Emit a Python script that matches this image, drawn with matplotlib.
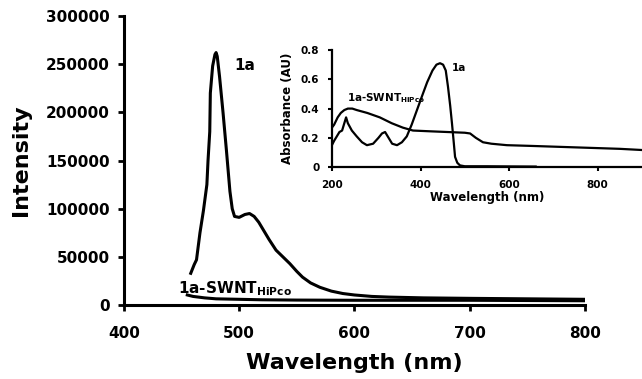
import matplotlib
matplotlib.use("Agg")
import matplotlib.pyplot as plt

# emission spectra (main panel)
em_1a_wl = [458, 461, 463, 466, 469, 472, 473, 474.5, 475, 477, 479, 480, 481, 483,
            486, 489, 492, 494, 496, 500, 505, 509, 513, 517, 521, 526, 532, 538,
            544, 550, 555, 562, 570, 580, 590, 600, 615, 630, 660, 700, 750, 800]
em_1a_int = [33000, 42000, 47000, 75000, 98000, 125000, 150000, 180000, 220000,
             248000, 260000, 262000, 258000, 237000, 200000, 160000, 118000, 100000,
             92000, 91000, 94000, 95000, 92000, 86000, 78000, 68000, 57000, 50000,
             43000, 35000, 29000, 23000, 18500, 14500, 12000, 10500, 9000, 8300,
             7500, 7000, 6500, 6000]
em_swnt_wl = [455, 460, 470, 480, 500, 520, 550, 600, 700, 800]
em_swnt_int = [10500, 9000, 7500, 6500, 6000, 5500, 5200, 5000, 5000, 4500]

# absorption spectra (inset)
abs_1a_wl = [200, 205, 211, 217, 223, 229, 232, 236, 245, 256, 268, 279, 293, 305,
             313, 320, 328, 336, 347, 358, 369, 380, 392, 404, 415, 427, 436, 444,
             451, 457, 462, 467, 471, 475, 478, 483, 489, 500, 550, 600, 660]
abs_1a = [0.15, 0.18, 0.21, 0.24, 0.25, 0.31, 0.34, 0.30, 0.25, 0.21, 0.17, 0.15,
          0.16, 0.20, 0.23, 0.24, 0.20, 0.16, 0.15, 0.17, 0.21, 0.29, 0.39, 0.49,
          0.58, 0.66, 0.70, 0.71, 0.70, 0.66, 0.55, 0.42, 0.30, 0.17, 0.07, 0.03,
          0.012, 0.006, 0.006, 0.005, 0.004]
abs_swnt_wl = [200, 205, 213, 220, 228, 236, 246, 256, 280, 308, 335, 360, 383, 420,
               460, 500, 512, 525, 541, 560, 595, 650, 700, 750, 800, 850, 900]
abs_swnt = [0.27, 0.29, 0.34, 0.37, 0.39, 0.40, 0.40, 0.39, 0.37, 0.34, 0.30, 0.27,
            0.25, 0.245, 0.24, 0.235, 0.23, 0.20, 0.17, 0.16, 0.15, 0.145, 0.14,
            0.135, 0.13, 0.125, 0.117]

main_xticks = [400, 500, 600, 700, 800]
main_yticks = [0, 50000, 100000, 150000, 200000, 250000, 300000]
inset_xticks = [200, 400, 600, 800]
inset_yticks = [0, 0.2, 0.4, 0.6, 0.8]

plt.rcParams["font.family"] = "DejaVu Sans"
plt.rcParams["font.weight"] = "bold"

fig = plt.figure(figsize=(6.42, 3.79), dpi=100)
ax = fig.add_axes([0.193, 0.195, 0.718, 0.763])

ax.plot(em_1a_wl, em_1a_int, color="black", lw=2.2)
ax.plot(em_swnt_wl, em_swnt_int, color="black", lw=2.2)
ax.set_xlim(400, 800)
ax.set_ylim(0, 300000)
ax.set_xticks(main_xticks, [str(v) for v in main_xticks])
ax.set_yticks(main_yticks, [str(v) for v in main_yticks])
ax.tick_params(labelsize=11, length=4, width=2, direction="out")
ax.tick_params(axis="x", pad=11)
ax.tick_params(axis="y", pad=6)
for side in ("top", "right"):
    ax.spines[side].set_visible(False)
for side in ("left", "bottom"):
    ax.spines[side].set_linewidth(2.2)
ax.set_xlabel("Wavelength (nm)", fontsize=16, fontweight="bold", labelpad=9)
ax.set_ylabel("Intensity", fontsize=16, fontweight="bold", labelpad=11)

ax.text(496, 249000, "1a", fontsize=11, fontweight="bold", va="center")
ax.text(447, 16600, r"1a-SWNT$_{\mathbf{HiPco}}$", fontsize=11, fontweight="bold",
        va="center")

# inset: absorbance
ins = fig.add_axes([0.517, 0.559, 0.483, 0.309])
ins.set_facecolor("none")
ins.plot(abs_1a_wl, abs_1a, color="black", lw=1.6)
ins.plot(abs_swnt_wl, abs_swnt, color="black", lw=1.6)
ins.set_xlim(200, 900)
ins.set_ylim(0, 0.8)
ins.set_xticks(inset_xticks, [str(v) for v in inset_xticks])
ins.set_yticks(inset_yticks, ["0", "0.2", "0.4", "0.6", "0.8"])
ins.tick_params(labelsize=7.5, length=3, width=1.5, direction="out", pad=6)
for side in ("top", "right"):
    ins.spines[side].set_visible(False)
for side in ("left", "bottom"):
    ins.spines[side].set_linewidth(1.6)
ins.set_xlabel("Wavelength (nm)", fontsize=8.5, fontweight="bold", labelpad=1)
ins.set_ylabel("Absorbance (AU)", fontsize=8.5, fontweight="bold", labelpad=5)
ins.text(471, 0.68, "1a", fontsize=7.5, fontweight="bold", va="center")
ins.text(234, 0.47, r"1a-SWNT$_{\mathbf{HiPco}}$", fontsize=7.5, fontweight="bold",
         va="center")

fig.savefig("out.png", dpi=100)
